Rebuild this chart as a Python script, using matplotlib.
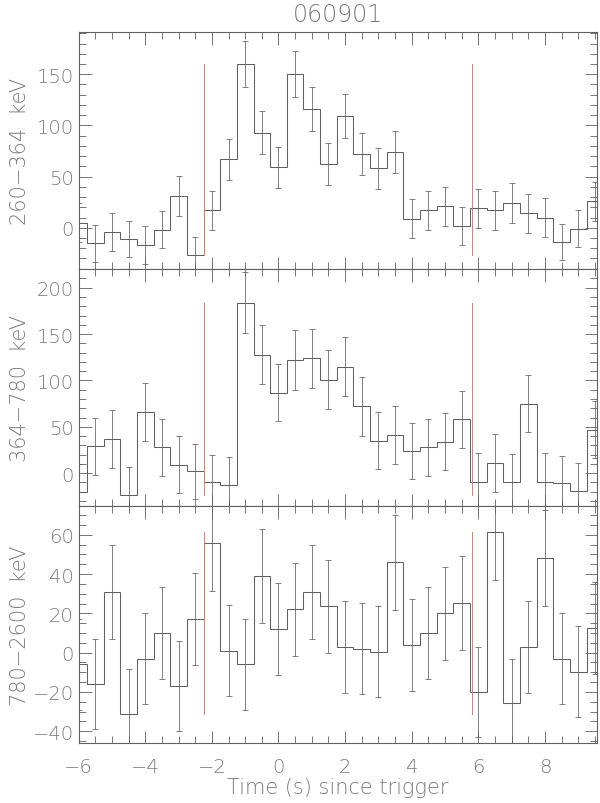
import numpy as np
import matplotlib
matplotlib.use('Agg')
from matplotlib import pyplot as plt
from matplotlib.ticker import MultipleLocator

# time bins (s since trigger), 0.5 s wide
time_bins = np.arange(-6.0, 9.51, 0.5)

# 260-364 keV
counts_low = [5, -15, -4, -11, -17, -2, 31, -27, 17, 67, 160, 93, 59, 150, 116, 62,
              109, 72, 58, 74, 9, 17, 21, 2, 19, 17, 24, 14, 10, -14, -1, 26]
err_low = [19, 18, 18.6, 18, 18.4, 18, 19.6, 18, 19, 20, 22.5, 21, 20, 22.7, 21.5, 20.4,
           21.4, 20.4, 20, 20.4, 19, 19, 19, 18.6, 19, 19, 19.5, 19, 18.8, 18, 18, 19]

# 364-780 keV
counts_mid = [-20, 29, 37, -23, 66, 28, 9, 2, -10, -13, 184, 128, 87, 122, 124, 101,
              115, 72, 35, 41, 24, 28, 34, 58, -9, 11, -10, 75, -9, -11, -19, 47]
err_mid = [30, 30.6, 31, 30, 31, 30.6, 30.6, 30, 30, 30, 33.3, 32, 31, 32, 32, 31.7,
           31.7, 31.9, 31, 31, 30.6, 30.8, 30.8, 31, 30.5, 30.8, 30.6, 30.8, 30.5, 30, 30, 31]

# 780-2600 keV
counts_high = [-6, -16, 31, -31, -3, 10, -17, 17, 56, 1, -6, 39, 12, 22, 31, 23.5,
               3, 2, 0.5, 46, 4, 10, 20, 25.5, -20, 61.6, -25.7, 3, 48, -3, -9.6, 12.5]
err_high = [23, 22.8, 23.9, 22.8, 23, 23.3, 22.8, 23.5, 24.4, 23.2, 23.2, 24, 23.4, 23.7, 23.9, 23.6,
            23.4, 23.2, 23.2, 24.2, 23.4, 23.3, 23.5, 23.9, 22.8, 24.4, 22.7, 23.4, 24.4, 23, 23, 23.5]

band_labels = ['260\u2212364  keV', '364\u2212780  keV', '780\u22122600  keV']
y_limits = [(-40.5, 191), (-35.5, 220), (-46, 74.6)]
y_major = [50, 50, 20]
y_minor = [10, 10, 5]

t_start, t_end = -2.23, 5.8
title = '060901'

ink = '#606060'
text_col = '#7a7a7a'
plt.rcParams['font.weight'] = 'light'

fig = plt.figure(figsize=(6, 8.04), dpi=100)
gs = fig.add_gridspec(3, 1, left=0.131, right=0.995, bottom=0.0746, top=0.9586, hspace=0)

edges = np.append(time_bins - 0.25, time_bins[-1] + 0.25)
series = [(counts_low, err_low), (counts_mid, err_mid), (counts_high, err_high)]

axes = []
for i, (vals, errs) in enumerate(series):
    ax = fig.add_subplot(gs[i])
    axes.append(ax)
    ax.stairs(vals, edges, baseline=None, color=ink, lw=0.75)
    ax.errorbar(time_bins, vals, yerr=errs, fmt='none', ecolor=ink,
                elinewidth=0.55, capsize=2.5, capthick=0.55)
    lo, hi = min(vals), max(vals)
    for t in (t_start, t_end):
        ax.plot([t, t], [lo, hi], color='#e47a6a', lw=0.7)

    ax.set_xlim(-6, 9.56)
    ax.set_ylim(*y_limits[i])
    ax.xaxis.set_major_locator(MultipleLocator(2))
    ax.xaxis.set_minor_locator(MultipleLocator(0.5))
    ax.yaxis.set_major_locator(MultipleLocator(y_major[i]))
    ax.yaxis.set_minor_locator(MultipleLocator(y_minor[i]))
    ax.tick_params(which='both', direction='in', top=True, right=True,
                   colors=ink, labelcolor=text_col, labelsize=14)
    ax.tick_params(which='major', length=9, width=0.6)
    ax.tick_params(which='minor', length=5, width=0.6)
    ax.tick_params(axis='x', which='major', pad=10)
    for s in ax.spines.values():
        s.set_color(ink)
        s.set_linewidth(0.8)
    ax.set_ylabel(band_labels[i], color=text_col, fontsize=15, fontweight='light')
    ax.yaxis.set_label_coords(-0.093, 0.5)
    if i < 2:
        ax.tick_params(labelbottom=False)

axes[0].set_title(title, color=text_col, fontsize=17, pad=8, fontweight='light')
axes[2].set_xlabel('Time (s) since trigger', color=text_col, fontsize=15,
                   labelpad=1, fontweight='light')

fig.savefig('out.png', dpi=100)
